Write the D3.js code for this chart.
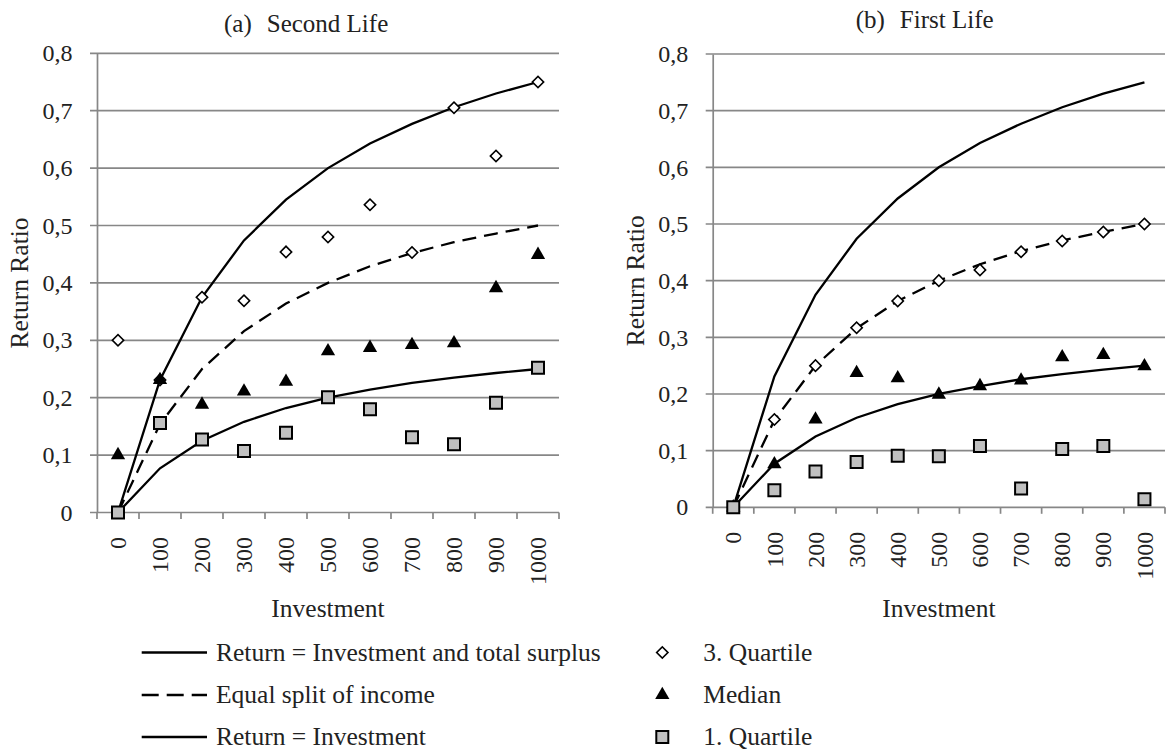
<!DOCTYPE html>
<html>
<head>
<meta charset="utf-8">
<script src="https://cdn.jsdelivr.net/npm/d3@7"></script>
<style>
    body { margin: 0; background: #fff; }
    svg { font-family: 'Liberation Serif', 'Times New Roman', serif; fill: #222; }
</style>
</head>
<body>
<div class="chart-container"></div>
<script>
// categories and tick values
const investment = ['0', '100', '200', '300', '400', '500', '600', '700', '800', '900', '1000'];
const yTicks = [0, 0.1, 0.2, 0.3, 0.4, 0.5, 0.6, 0.7, 0.8];

// benchmark lines (same in both panels)
const totalSurplusLine = [0, 0.231, 0.375, 0.474, 0.545, 0.6, 0.643, 0.677, 0.706, 0.73, 0.75];
const equalSplitLine = [0, 0.154, 0.25, 0.316, 0.364, 0.4, 0.429, 0.452, 0.471, 0.486, 0.5];
const returnInvestmentLine = [0, 0.077, 0.125, 0.158, 0.182, 0.2, 0.214, 0.226, 0.235, 0.243, 0.25];

// (a) second life
const q3SecondLife = [0.30, 0.231, 0.375, 0.369, 0.454, 0.48, 0.536, 0.453, 0.705, 0.621, 0.75];
const medianSecondLife = [0.10, 0.231, 0.188, 0.211, 0.228, 0.281, 0.287, 0.292, 0.295, 0.391, 0.449];
const q1SecondLife = [0, 0.156, 0.127, 0.107, 0.139, 0.201, 0.18, 0.131, 0.119, 0.191, 0.252];

// (b) first life
const q3FirstLife = [0, 0.155, 0.25, 0.317, 0.364, 0.4, 0.419, 0.451, 0.47, 0.486, 0.5];
const medianFirstLife = [0, 0.076, 0.155, 0.237, 0.228, 0.199, 0.214, 0.224, 0.265, 0.269, 0.249];
const q1FirstLife = [0, 0.03, 0.063, 0.08, 0.091, 0.09, 0.108, 0.033, 0.103, 0.108, 0.014];

// legend labels
const lineLabels = ['Return = Investment and total surplus', 'Equal split of income', 'Return = Investment'];
const markerLabels = ['3. Quartile', 'Median', '1. Quartile'];

const gridColor = '#878787';
const fmt = d3.formatLocale({ decimal: ',', thousands: '.', grouping: [3], currency: ['', ''] }).format('.1~f');

const symbols = {
    q3: { type: d3.symbolSquare, size: 64, rotate: 45, fill: '#fff', stroke: '#000', width: 1.6 },
    median: { type: d3.symbolTriangle, size: 88, rotate: 0, fill: '#000', stroke: 'none', width: 0 },
    q1: { type: d3.symbolSquare, size: 144, rotate: 0, fill: '#c0c0c0', stroke: '#000', width: 2 }
};

const panels = [
    {
        label: '(a)', title: 'Second Life',
        q3: q3SecondLife, median: medianSecondLife, q1: q1SecondLife,
        left: 97, right: 559, top: 53.3, bottom: 512.5, titleX: 224, titleY: 32
    },
    {
        label: '(b)', title: 'First Life',
        q3: q3FirstLife, median: medianFirstLife, q1: q1FirstLife,
        left: 712.7, right: 1165, top: 54, bottom: 507.3, titleX: 855.7, titleY: 28
    }
];

const svg = d3.select('.chart-container')
    .append('svg')
    .attr('width', 1169)
    .attr('height', 756);

function addMarker(sel, key, x, y) {
    const s = symbols[key];
    sel.append('path')
        .attr('d', d3.symbol().type(s.type).size(s.size)())
        .attr('transform', `translate(${x}, ${y}) rotate(${s.rotate})`)
        .attr('fill', s.fill)
        .attr('stroke', s.stroke)
        .attr('stroke-width', s.width);
}

function drawPanel(p) {
    const g = svg.append('g');

    const xScale = d3.scaleBand()
        .domain(investment)
        .range([p.left, p.right])
        .padding(0);

    const yScale = d3.scaleLinear()
        .domain([0, 0.8])
        .range([p.bottom, p.top]);

    const cx = d => xScale(d) + xScale.bandwidth() / 2;

    // horizontal gridlines
    g.append('g')
        .selectAll('line')
        .data(yTicks)
        .join('line')
        .attr('x1', p.left - 7)
        .attr('x2', p.right)
        .attr('y1', d => yScale(d))
        .attr('y2', d => yScale(d))
        .attr('stroke', gridColor)
        .attr('stroke-width', 1.7);

    // y axis with labels
    const yAxis = d3.axisLeft(yScale)
        .tickValues(yTicks)
        .tickFormat(fmt)
        .tickSizeInner(0)
        .tickSizeOuter(0)
        .tickPadding(24.5);

    const yAxisDraw = g.append('g')
        .attr('transform', `translate(${p.left}, 0)`)
        .call(yAxis);
    yAxisDraw.select('.domain').attr('stroke', gridColor).attr('stroke-width', 1.7);
    yAxisDraw.selectAll('text')
        .attr('font-size', 24)
        .attr('font-family', 'Liberation Serif')
        .attr('fill', '#222');

    // x axis ticks between categories
    const edges = investment.map(d => xScale(d)).concat([p.right]);
    g.append('g')
        .selectAll('line')
        .data(edges)
        .join('line')
        .attr('x1', d => d)
        .attr('x2', d => d)
        .attr('y1', p.bottom)
        .attr('y2', p.bottom + 6.5)
        .attr('stroke', gridColor)
        .attr('stroke-width', 1.7);

    const xAxis = d3.axisBottom(xScale).tickSize(0);
    const xAxisDraw = g.append('g')
        .attr('transform', `translate(0, ${p.bottom})`)
        .call(xAxis);
    xAxisDraw.select('.domain').remove();
    xAxisDraw.selectAll('text')
        .attr('transform', 'rotate(-90)')
        .attr('x', -24.5)
        .attr('y', 0)
        .attr('dy', '0.34em')
        .style('text-anchor', 'end')
        .attr('font-size', 24)
        .attr('font-family', 'Liberation Serif')
        .attr('fill', '#222');

    // benchmark lines
    const line = d3.line()
        .x((d, i) => cx(investment[i]))
        .y(d => yScale(d));

    [
        { values: totalSurplusLine, dash: null },
        { values: equalSplitLine, dash: '14,8' },
        { values: returnInvestmentLine, dash: null }
    ].forEach(l => {
        g.append('path')
            .datum(l.values)
            .attr('d', line)
            .attr('fill', 'none')
            .attr('stroke', '#000')
            .attr('stroke-width', 2.3)
            .attr('stroke-dasharray', l.dash);
    });

    // markers: 3rd quartile, median, 1st quartile (1st quartile on top)
    ['q3', 'median', 'q1'].forEach(key => {
        const mg = g.append('g');
        p[key].forEach((v, i) => addMarker(mg, key, cx(investment[i]), yScale(v)));
    });

    // titles
    const title = svg.append('text')
        .attr('x', p.titleX)
        .attr('y', p.titleY)
        .attr('font-size', 25)
        .attr('fill', '#222');
    title.append('tspan').text(p.label);
    title.append('tspan').attr('dx', 15).text(p.title);

    svg.append('text')
        .attr('x', (p.left + p.right) / 2)
        .attr('y', 617)
        .attr('text-anchor', 'middle')
        .attr('font-size', 25.5)
        .attr('fill', '#222')
        .text('Investment');

    svg.append('text')
        .attr('transform', `translate(${p.left - 69}, ${(p.top + p.bottom) / 2}) rotate(-90)`)
        .attr('text-anchor', 'middle')
        .attr('font-size', 25.5)
        .attr('fill', '#222')
        .text('Return Ratio');
}

panels.forEach(drawPanel);

// legend
const rowY = [652.5, 695, 737];
const legend = svg.append('g');
const lineDash = [null, '17,8', null];

lineLabels.forEach((label, i) => {
    legend.append('line')
        .attr('x1', 141.7)
        .attr('x2', 207)
        .attr('y1', rowY[i])
        .attr('y2', rowY[i])
        .attr('stroke', '#000')
        .attr('stroke-width', 2.3)
        .attr('stroke-dasharray', lineDash[i]);
    legend.append('text')
        .attr('x', 216)
        .attr('y', rowY[i] + 8)
        .attr('font-size', 25.5)
        .attr('fill', '#222')
        .text(label);
});

['q3', 'median', 'q1'].forEach((key, i) => {
    addMarker(legend, key, 662.3, rowY[i]);
    legend.append('text')
        .attr('x', 703.3)
        .attr('y', rowY[i] + 8)
        .attr('font-size', 25.5)
        .attr('fill', '#222')
        .text(markerLabels[i]);
});
</script>
</body>
</html>
